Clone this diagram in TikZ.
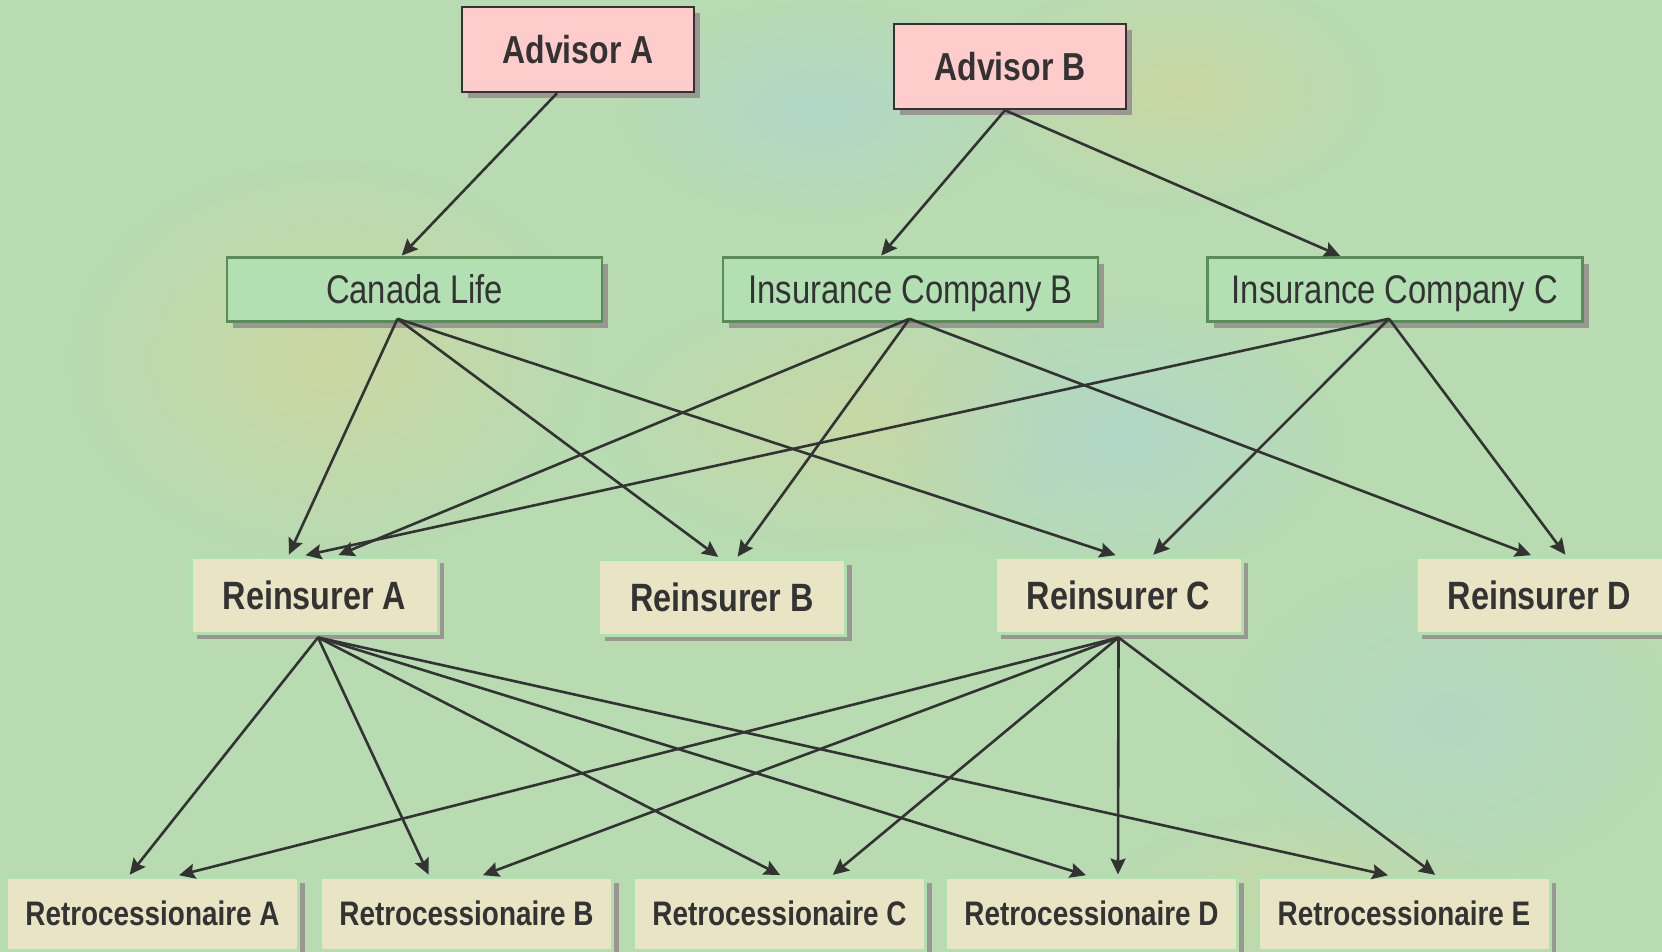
\documentclass[tikz,border=0pt]{standalone}
\usepackage{fontspec}
\setmainfont{Liberation Sans}[FakeStretch=0.82]
\usetikzlibrary{arrows.meta,shadows,fadings}
\definecolor{bg}{RGB}{184,219,178}
\definecolor{blobY}{RGB}{205,215,160}
\definecolor{blobB}{RGB}{175,215,205}
\definecolor{pinkfill}{RGB}{255,204,204}
\definecolor{greenfill}{RGB}{178,224,178}
\definecolor{greenedge}{RGB}{90,140,90}
\definecolor{beige}{RGB}{232,228,196}
\definecolor{beigeedge}{RGB}{176,224,176}
\definecolor{shadowgray}{RGB}{154,150,145}
\definecolor{ink}{RGB}{51,51,51}
\tikzfading[name=softblob, inner color=transparent!0, outer color=transparent!100]
\tikzset{
  box/.style={rectangle, inner sep=0pt, text=ink, text depth=0pt,
    drop shadow={shadow xshift=6pt, shadow yshift=-6pt, fill=shadowgray, opacity=1}},
  advbox/.style={box, fill=pinkfill, draw=ink, line width=2.5pt, text height=28pt,
    minimum width=232pt, minimum height=85pt, font=\bfseries\fontsize{39}{39}\selectfont},
  insbox/.style={box, fill=greenfill, draw=greenedge, line width=2.5pt, text height=28.6pt,
    minimum width=375pt, minimum height=64pt, font=\fontsize{40}{40}\selectfont},
  reibox/.style={box, fill=beige, draw=beigeedge, line width=3pt, text height=28.3pt,
    minimum width=247pt, minimum height=76pt, font=\bfseries\fontsize{39.5}{40}\selectfont},
  retbox/.style={box, fill=beige, draw=beigeedge, line width=3pt, text height=24.3pt,
    minimum width=292pt, minimum height=73pt, font=\bfseries\fontsize{34}{34}\selectfont},
  arr/.style={draw=ink, line width=2.6pt, shorten >=1pt,
    -{Stealth[length=16pt,width=15pt,inset=2.5pt]}}
}
\begin{document}
\begin{tikzpicture}[x=1pt,y=-1pt]
\useasboundingbox (0,0) rectangle (1662,952);
\clip (0,0) rectangle (1662,952);
\fill[bg] (0,0) rectangle (1662,952);
% soft colour variations of the background
\fill[blobY, path fading=softblob, opacity=0.9] (330,360) ellipse (260pt and 200pt);
\fill[blobY, path fading=softblob, opacity=0.8] (1180,90) ellipse (200pt and 120pt);
\fill[blobY, path fading=softblob, opacity=0.7] (850,420) ellipse (250pt and 130pt);
\fill[blobB, path fading=softblob, opacity=0.8] (820,110) ellipse (200pt and 110pt);
\fill[blobB, path fading=softblob, opacity=0.8] (1120,440) ellipse (220pt and 140pt);
\fill[blobB, path fading=softblob, opacity=0.6] (1450,720) ellipse (220pt and 160pt);
\fill[blobY, path fading=softblob, opacity=0.6] (1300,900) ellipse (200pt and 90pt);

% nodes
\node[advbox] (aa) at (578,49.5) {Advisor A};
\node[advbox] (ab) at (1010,66.5) {Advisor B};
\node[insbox] (cl) at (414.5,289.5) {Canada Life};
\node[insbox] (ib) at (910.5,289.5) {Insurance Company B};
\node[insbox] (ic) at (1395,289.5) {Insurance Company C};
\node[reibox] (ra) at (314.5,595) {Reinsurer A};
\node[reibox] (rb) at (722,597) {Reinsurer B};
\node[reibox] (rc) at (1118.5,595) {Reinsurer C};
\node[reibox] (rd) at (1539.5,595) {Reinsurer D};
\node[retbox] (xa) at (152.5,913.5) {Retrocessionaire A};
\node[retbox] (xb) at (466.5,913.5) {Retrocessionaire B};
\node[retbox] (xc) at (779.5,913.5) {Retrocessionaire C};
\node[retbox] (xd) at (1091.5,913.5) {Retrocessionaire D};
\node[retbox] (xe) at (1404,913.5) {Retrocessionaire E};

% connectors
\draw[arr] ([xshift=-21pt]aa.south) -- ([xshift=-13.5pt]cl.north);
\draw[arr] ([xshift=-5pt]ab.south) -- ([xshift=-30pt]ib.north);
\draw[arr] ([xshift=-5pt]ab.south) -- ([xshift=-54pt]ic.north);

\draw[arr] ([xshift=-17pt,yshift=4pt]cl.south) -- ([xshift=-26pt]ra.north);
\draw[arr] ([xshift=-17pt,yshift=4pt]cl.south) -- ([xshift=-3pt]rb.north);
\draw[arr] ([xshift=-17pt,yshift=4pt]cl.south) -- ([xshift=-2pt]rc.north);

\draw[arr] ([xshift=-1pt,yshift=4pt]ib.south) -- ([xshift=23pt]ra.north);
\draw[arr] ([xshift=-1pt,yshift=4pt]ib.south) -- ([xshift=15pt]rb.north);
\draw[arr] ([xshift=-1pt,yshift=4pt]ib.south) -- ([xshift=-7.5pt]rd.north);

\draw[arr] ([xshift=-6pt,yshift=4pt]ic.south) -- ([xshift=-10pt]ra.north);
\draw[arr] ([xshift=-6pt,yshift=4pt]ic.south) -- ([xshift=34pt]rc.north);
\draw[arr] ([xshift=-6pt,yshift=4pt]ic.south) -- ([xshift=26.5pt]rd.north);

\draw[arr] ([xshift=3.5pt,yshift=-3pt]ra.south) -- ([xshift=-23.5pt]xa.north);
\draw[arr] ([xshift=3.5pt,yshift=-3pt]ra.south) -- ([xshift=-37.5pt]xb.north);
\draw[arr] ([xshift=3.5pt,yshift=-3pt]ra.south) -- ([xshift=1.5pt]xc.north);
\draw[arr] ([xshift=3.5pt,yshift=-3pt]ra.south) -- ([xshift=-4.5pt]xd.north);
\draw[arr] ([xshift=3.5pt,yshift=-3pt]ra.south) -- ([xshift=-15pt]xe.north);

\draw[arr] ([yshift=-3pt]rc.south) -- ([xshift=25.5pt]xa.north);
\draw[arr] ([yshift=-3pt]rc.south) -- ([xshift=15.5pt]xb.north);
\draw[arr] ([yshift=-3pt]rc.south) -- ([xshift=52.5pt]xc.north);
\draw[arr] ([yshift=-3pt]rc.south) -- ([xshift=26.5pt]xd.north);
\draw[arr] ([yshift=-3pt]rc.south) -- ([xshift=32pt]xe.north);
\end{tikzpicture}
\end{document}
